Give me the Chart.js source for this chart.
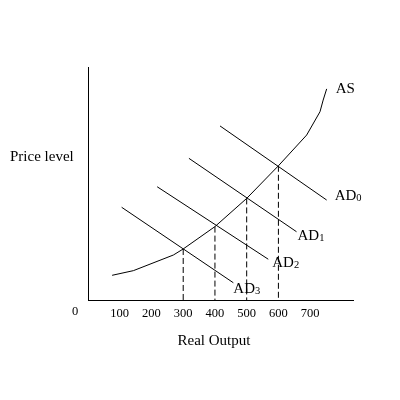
<!DOCTYPE html>
<html><head><meta charset="utf-8">
<script src="https://cdn.jsdelivr.net/npm/chart.js@4/dist/chart.umd.min.js"></script>
<style>html,body{margin:0;padding:0;background:#fff}canvas{display:block}</style>
</head><body>
<canvas id="c" width="400" height="400"></canvas>
<script>
// ---- data ----
const xTickLabels = [100, 200, 300, 400, 500, 600, 700];
const originLabel = '0';
const xTitle = 'Real Output';
const yTitle = 'Price level';

const asName = 'AS';
const asOutput = [76, 143, 269, 300, 400, 500, 600, 689, 731, 741, 752];
const asPrice  = [10.6, 12.6, 19.3, 21.9, 31.5, 43.6, 57.6, 70.8, 80.8, 85.8, 90.6];

const adNames = ['AD0', 'AD1', 'AD2', 'AD3'];
const adOutputStart = [416, 318, 218, 106];
const adOutputEnd   = [752, 657, 568, 458];
const adPriceStart  = [74.7, 60.8, 48.6, 39.8];
const adPriceEnd    = [42.9, 29.3, 17.5, 7.4];

const eqOutput = [300, 400, 500, 600];
const eqPrice  = [21.9, 31.5, 43.6, 57.6];

// ---- style ----
const FONT = "'Liberation Serif', 'Times New Roman', serif";
const labelOffsets = { AS: [9, -1], AD0: [8, -5], AD1: [1, 3], AD2: [4, 3], AD3: [0, 5] };

const datasets = [];
datasets.push({
  label: asName,
  data: asOutput.map((x, i) => ({ x: x, y: asPrice[i] })),
  borderColor: '#000', borderWidth: 1, pointRadius: 0, tension: 0, fill: false
});
adNames.forEach((n, i) => {
  datasets.push({
    label: n,
    data: [{ x: adOutputStart[i], y: adPriceStart[i] }, { x: adOutputEnd[i], y: adPriceEnd[i] }],
    borderColor: '#000', borderWidth: 1, pointRadius: 0, tension: 0, fill: false
  });
});
eqOutput.forEach((x, i) => {
  datasets.push({
    label: 'eq' + i,
    data: [{ x: x, y: eqPrice[i] }, { x: x, y: 0 }],
    borderColor: '#000', borderWidth: 1, borderDash: [6, 3], pointRadius: 0, fill: false
  });
});

const textPlugin = {
  id: 'texts',
  afterDraw(chart) {
    const ctx = chart.ctx;
    const xs = chart.scales.x, ys = chart.scales.y;
    ctx.save();
    ctx.fillStyle = '#000';
    ctx.textBaseline = 'middle';
    // y title (horizontal)
    ctx.font = '15px ' + FONT;
    ctx.textAlign = 'left';
    ctx.fillText(yTitle, 10, 157);
    // x title
    ctx.textAlign = 'center';
    ctx.fillText(xTitle, 214, 341);
    // origin label
    ctx.font = '12.5px ' + FONT;
    ctx.fillText(originLabel, xs.getPixelForValue(0) - 13, 312);
    // curve labels
    ctx.textAlign = 'left';
    ctx.textBaseline = 'alphabetic';
    const drawLabel = (name, px, py) => {
      const off = labelOffsets[name] || [0, 0];
      const x = px + off[0], y = py + off[1] + 5;
      const main = name.replace(/\d+$/, '');
      const sub = name.slice(main.length);
      ctx.font = '15px ' + FONT;
      ctx.fillText(main, x, y);
      const w = ctx.measureText(main).width;
      if (sub) {
        ctx.font = '10.5px ' + FONT;
        ctx.fillText(sub, x + w, y + 1);
      }
    };
    const last = asOutput.length - 1;
    drawLabel(asName, xs.getPixelForValue(asOutput[last]), ys.getPixelForValue(asPrice[last]));
    adNames.forEach((n, i) => {
      drawLabel(n, xs.getPixelForValue(adOutputEnd[i]), ys.getPixelForValue(adPriceEnd[i]));
    });
    ctx.restore();
  }
};

new Chart(document.getElementById('c'), {
  type: 'line',
  data: { datasets: datasets },
  options: {
    responsive: false,
    animation: false,
    devicePixelRatio: 1,
    layout: { padding: { left: 88, right: 47, top: 67, bottom: 0 } },
    plugins: { legend: { display: false }, tooltip: { enabled: false } },
    scales: {
      x: {
        type: 'linear', min: 0, max: 835,
        grid: { display: false, drawTicks: false },
        border: { display: true, color: '#000', width: 1 },
        ticks: {
          stepSize: 100, padding: 6, color: '#000', maxRotation: 0, autoSkip: false,
          font: { family: FONT, size: 12.5 },
          callback: (v) => xTickLabels.includes(v) ? String(v) : ''
        },
        afterFit: (s) => { s.height = 100; }
      },
      y: {
        type: 'linear', min: 0, max: 100,
        grid: { display: false, drawTicks: false },
        border: { display: true, color: '#000', width: 1 },
        ticks: { display: false },
        afterFit: (s) => { s.width = 0; }
      }
    }
  },
  plugins: [textPlugin]
});
</script>
</body></html>
